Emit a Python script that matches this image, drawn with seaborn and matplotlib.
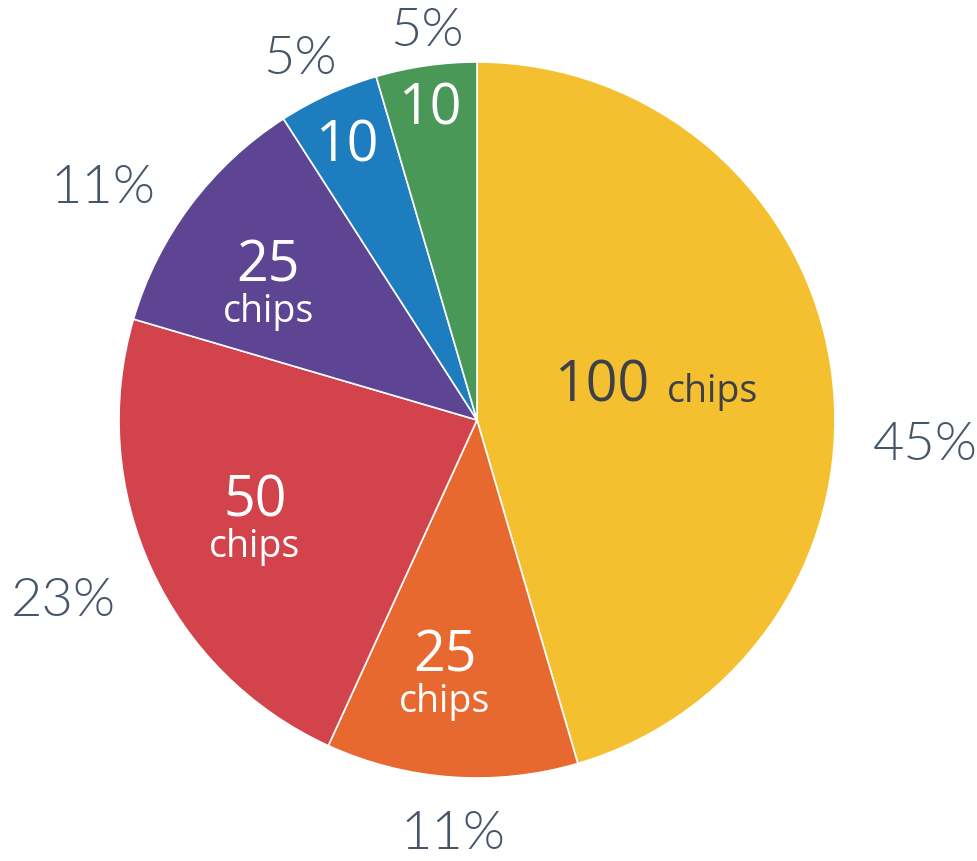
import numpy as np
import matplotlib
matplotlib.use("Agg")
import matplotlib.pyplot as plt
import seaborn as sns

# ---- data ----
chips = [100, 25, 50, 25, 10, 10]
numbers = ["100", "25", "50", "25", "10", "10"]
units = ["chips", "chips", "chips", "chips", "", ""]
percents = ["45%", "11%", "23%", "11%", "5%", "5%"]
colors = ["#F5C030", "#E8692F", "#D3434B", "#5E4593", "#1D7DBE", "#4A9858"]

# ---- style ----
sns.set_theme(style="white")
plt.rcParams["font.family"] = ["Open Sans", "DejaVu Sans"]
palette = sns.color_palette(colors)

W, H = 977, 861
fig = plt.figure(figsize=(W / 100, H / 100), dpi=100)
ax = fig.add_axes([0, 0, 1, 1])

cx, cy, R = 477, 441, 358
wedges, _ = ax.pie(chips, colors=palette, startangle=90, counterclock=False,
                   center=(cx, cy), radius=R,
                   wedgeprops=dict(edgecolor="white", linewidth=1.2))

# label placement (angle in degrees, radius fraction)
inner_pos = [(11.6, 0.514), (-97.2, 0.718), (-155.8, 0.68), (147.1, 0.695),
             (115.5, 0.845), (98.6, 0.876)]
outer_pos = [(-3.2, 1.254), (-93.3, 1.161), (-156.3, 1.263), (148.2, 1.229),
             (116.2, 1.121), (97.3, 1.093)]

pct_color = "#46566A"
for i, (num, unit, pct) in enumerate(zip(numbers, units, percents)):
    a, rf = inner_pos[i]
    x = cx + R * rf * np.cos(np.radians(a))
    y = cy + R * rf * np.sin(np.radians(a))
    if i == 0:
        tc = "#3E4048"
        ax.text(x - 8, y - 19, num, ha="right", va="baseline", fontsize=40, color=tc)
        ax.text(x + 10, y - 19, unit, ha="left", va="baseline", fontsize=27, color=tc)
    elif unit:
        ax.text(x, y + 18, num, ha="center", va="center", fontsize=40, color="white")
        ax.text(x, y - 27, unit, ha="center", va="center", fontsize=27, color="white")
    else:
        ax.text(x, y, num, ha="center", va="center", fontsize=40, color="white")
    a, rf = outer_pos[i]
    x = cx + R * rf * np.cos(np.radians(a))
    y = cy + R * rf * np.sin(np.radians(a))
    ax.text(x, y, pct, ha="center", va="center", fontsize=39, color=pct_color,
            family=["Lato", "DejaVu Sans"], fontweight=300, clip_on=False)

ax.set_xlim(0, W)
ax.set_ylim(0, H)
ax.set_aspect("equal", adjustable="datalim")
ax.axis("off")
fig.savefig("out.png", dpi=100, facecolor="white")
